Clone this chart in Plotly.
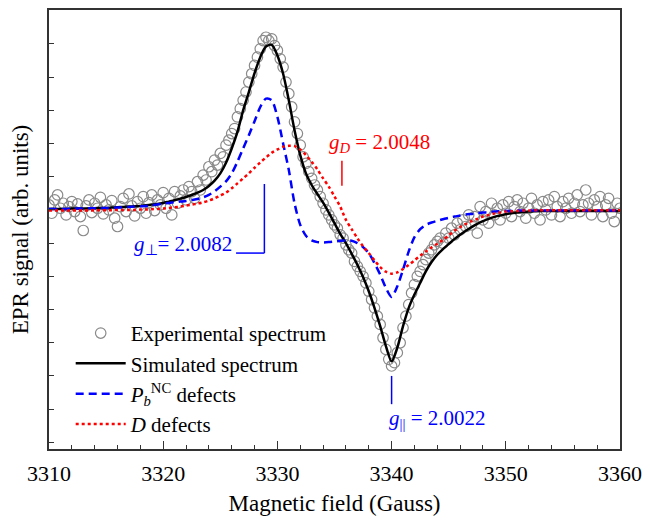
import plotly.graph_objects as go

# ---------------- data ----------------
field_curve = [3310 + 0.5 * i for i in range(101)]

simulated = [0.03, 0.03, 0.03, 0.03, 0.04, 0.04, 0.04, 0.05, 0.05, 0.06,
             0.06, 0.07, 0.08, 0.09, 0.10, 0.11, 0.12, 0.14, 0.16, 0.18,
             0.21, 0.25, 0.29, 0.34, 0.39, 0.45, 0.52, 0.60, 0.72, 0.88,
             1.10, 1.42, 1.85, 2.35, 3.00, 3.55, 4.12, 4.60, 4.92, 4.97,
             4.65, 4.10, 3.30, 2.40, 1.65, 1.10, 0.75, 0.48, 0.22, -0.08,
             -0.40, -0.72, -1.00, -1.32, -1.65, -2.02, -2.45, -2.95, -3.50, -4.10,
             -4.56, -4.15, -3.50, -2.95, -2.55, -2.20, -1.85, -1.57, -1.35, -1.18,
             -1.03, -0.88, -0.75, -0.63, -0.52, -0.42, -0.34, -0.27, -0.21, -0.17,
             -0.13, -0.10, -0.08, -0.06, -0.05, -0.04, -0.03, -0.03, -0.03, -0.03,
             -0.03, -0.03, -0.03, -0.03, -0.03, -0.03, -0.03, -0.03, -0.03, -0.03,
             -0.03]

pb_defects = [0.03, 0.03, 0.03, 0.03, 0.04, 0.04, 0.04, 0.05, 0.05, 0.05,
              0.06, 0.06, 0.07, 0.08, 0.09, 0.10, 0.11, 0.12, 0.14, 0.16,
              0.19, 0.21, 0.23, 0.25, 0.27, 0.30, 0.33, 0.38, 0.45, 0.56,
              0.70, 0.86, 1.10, 1.45, 1.85, 2.25, 2.67, 3.10, 3.35, 3.30,
              2.80, 2.00, 1.20, 0.20, -0.45, -0.78, -0.92, -0.97, -0.98, -0.97,
              -0.95, -0.93, -0.92, -0.93, -1.00, -1.12, -1.30, -1.60, -1.95, -2.35,
              -2.62, -2.30, -1.80, -1.25, -0.82, -0.58, -0.45, -0.38, -0.33, -0.28,
              -0.24, -0.20, -0.17, -0.14, -0.12, -0.10, -0.08, -0.07, -0.05, -0.04,
              -0.03, -0.03, -0.02, -0.02, -0.02, -0.02, -0.02, -0.02, -0.02, -0.02,
              -0.02, -0.02, -0.02, -0.02, -0.02, -0.02, -0.02, -0.02, -0.02, -0.02,
              -0.02]

d_defects = [-0.02, -0.02, -0.02, -0.02, -0.02, -0.02, -0.02, -0.02, -0.01, -0.01,
             -0.01, -0.01, 0.00, 0.00, 0.00, 0.00, 0.01, 0.01, 0.02, 0.03,
             0.04, 0.06, 0.08, 0.10, 0.13, 0.16, 0.19, 0.23, 0.28, 0.35,
             0.43, 0.52, 0.65, 0.80, 0.95, 1.10, 1.27, 1.43, 1.58, 1.72,
             1.82, 1.90, 1.93, 1.92, 1.82, 1.65, 1.45, 1.22, 0.95, 0.70,
             0.40, 0.10, -0.30, -0.58, -0.85, -1.10, -1.30, -1.52, -1.72, -1.86,
             -1.92, -1.88, -1.78, -1.66, -1.52, -1.38, -1.25, -1.13, -1.02, -0.90,
             -0.77, -0.63, -0.52, -0.42, -0.34, -0.27, -0.20, -0.15, -0.11, -0.08,
             -0.05, -0.04, -0.03, -0.02, -0.02, -0.01, -0.01, -0.01, -0.01, -0.01,
             -0.01, -0.01, -0.01, -0.01, -0.01, -0.01, -0.01, -0.01, -0.01, -0.01,
             -0.01]

field_exp = [3310 + 0.25 * i for i in range(201)]
experimental = [
    0.15, -0.10, 0.30, 0.45, 0.05, 0.20, -0.15, 0.10, 0.25, -0.05,
    0.18, -0.20, -0.62, 0.12, 0.30, -0.08, 0.20, 0.05, 0.38, -0.12,
    0.15, 0.00, 0.28, -0.25, -0.50, 0.10, 0.35, -0.05, 0.48, 0.12,
    -0.18, 0.25, 0.05, 0.40, -0.10, 0.22, 0.45, -0.02, 0.30, 0.15,
    0.52, 0.05, 0.35, -0.15, 0.55, 0.20, 0.42, 0.60, 0.30, 0.70,
    0.55, 0.35, 0.85, 0.60, 1.05, 0.90, 1.30, 1.15, 1.50, 1.35,
    1.70, 1.60, 1.95, 2.10, 2.30, 2.45, 2.80, 3.05, 3.30, 3.55,
    3.85, 4.10, 4.35, 4.60, 4.85, 5.10, 5.20, 5.10, 5.15, 4.95,
    4.80, 4.55, 4.30, 3.85, 3.50, 3.10, 2.65, 2.30, 1.95, 1.60,
    1.40, 1.15, 0.95, 0.75, 0.60, 0.40, 0.20, 0.00, -0.15, -0.30,
    -0.45, -0.55, -0.75, -0.85, -1.05, -1.20, -1.30, -1.55, -1.70, -1.85,
    -2.00, -2.20, -2.45, -2.70, -2.95, -3.20, -3.45, -3.85, -4.20, -4.50,
    -4.70, -4.60, -4.30, -4.00, -3.55, -3.20, -2.85, -2.50, -2.25, -2.00,
    -1.85, -1.65, -1.50, -1.30, -1.20, -1.05, -0.95, -0.85, -1.00, -0.70,
    -0.85, -0.55, -0.75, -0.40, -0.60, -0.30, -0.50, -0.15, -0.45, -0.20,
    -0.70, 0.10, -0.30, -0.05, -0.40, 0.20, -0.15, 0.05, -0.30, 0.15,
    -0.10, 0.25, -0.20, 0.10, 0.30, -0.05, 0.20, -0.25, 0.05, 0.35,
    -0.10, 0.15, -0.30, 0.25, 0.00, 0.30, -0.15, 0.40, 0.10, -0.20,
    0.25, 0.05, 0.35, -0.10, 0.20, 0.45, -0.05, 0.15, 0.60, 0.20,
    -0.15, 0.30, 0.10, 0.40, -0.20, 0.15, 0.35, -0.10, -0.35, 0.20,
    0.05]

x_ticks = [3310, 3320, 3330, 3340, 3350, 3360]

FONT = "Liberation Serif"

fig = go.Figure()
fig.add_trace(go.Scatter(
    x=field_exp, y=experimental, mode="markers", name="Experimental spectrum",
    marker=dict(symbol="circle-open", size=10.5, color="#8a8a8a", line=dict(width=1.2)),
))
fig.add_trace(go.Scatter(
    x=field_curve, y=simulated, mode="lines", name="Simulated spectrum",
    line=dict(color="black", width=2.5, shape="spline", smoothing=0.8),
))
fig.add_trace(go.Scatter(
    x=field_curve, y=pb_defects, mode="lines",
    name="<i>P</i><sub><i>b</i></sub><sup>NC</sup> defects",
    line=dict(color="#0000ff", width=2.5, dash="8px,5px", shape="spline", smoothing=0.8),
))
fig.add_trace(go.Scatter(
    x=field_curve, y=d_defects, mode="lines", name="<i>D</i> defects",
    line=dict(color="#ff0000", width=2.5, dash="dot", shape="spline", smoothing=0.8),
))

# g-value marker lines
fig.add_shape(type="line", x0=3335.65, x1=3335.65, y0=0.73, y1=1.48,
              line=dict(color="#ff0000", width=1.5))
fig.add_shape(type="line", x0=3328.86, x1=3328.86, y0=-1.3, y1=0.78,
              line=dict(color="#0000ff", width=1.5))
fig.add_shape(type="line", x0=3326.38, x1=3328.86, y0=-1.3, y1=-1.3,
              line=dict(color="#0000ff", width=1.5))
fig.add_shape(type="line", x0=3340.0, x1=3340.0, y0=-5.0, y1=-5.85,
              line=dict(color="#0000ff", width=1.5))

fig.add_annotation(x=3338.9, y=2.0, xref="x", yref="y", showarrow=False,
                   text="<i>g</i><sub><i>D</i></sub> = 2.0048",
                   font=dict(family=FONT, size=21, color="#ff0000"))
fig.add_annotation(x=3326.2, y=-1.05, xref="x", yref="y", showarrow=False, xanchor="right",
                   text="<i>g</i><sub>⊥</sub>= 2.0082",
                   font=dict(family=FONT, size=21, color="#0000ff"))
fig.add_annotation(x=3339.6, y=-6.3, xref="x", yref="y", showarrow=False, xanchor="left",
                   text="<i>g</i><sub>||</sub> = 2.0022",
                   font=dict(family=FONT, size=21, color="#0000ff"))

fig.update_layout(
    width=650, height=520,
    margin=dict(l=49, r=24, t=8, b=70),
    paper_bgcolor="white", plot_bgcolor="white",
    font=dict(family=FONT, size=21, color="black"),
    showlegend=True,
    legend=dict(x=0.038, y=0.31, xanchor="left", yanchor="top",
                bgcolor="rgba(0,0,0,0)", font=dict(family=FONT, size=21, color="black"),
                itemwidth=50, tracegroupgap=0),
)
fig.update_xaxes(
    range=[3310, 3360], tickvals=x_ticks, ticktext=[str(v) for v in x_ticks],
    ticks="inside", ticklen=8, tickwidth=1.3, tickcolor="#333",
    minor=dict(dtick=2, ticks="inside", ticklen=4, tickwidth=1.2, tickcolor="#333"),
    showline=True, linecolor="#333", linewidth=1.5, mirror=True,
    showgrid=False, zeroline=False, ticklabelstandoff=4,
    title=dict(text="Magnetic field (Gauss)", font=dict(family=FONT, size=23, color="black"), standoff=10),
    tickfont=dict(family=FONT, size=22, color="black"),
)
fig.update_yaxes(
    range=[-7.2, 6.02], dtick=1, tick0=0, showticklabels=False,
    ticks="inside", ticklen=5, tickwidth=1.3, tickcolor="#333",
    showline=True, linecolor="#333", linewidth=1.5, mirror=True,
    showgrid=False, zeroline=False,
    title=dict(text="EPR signal (arb. units)", font=dict(family=FONT, size=23, color="black"), standoff=12),
)

fig.write_html("out.html")
